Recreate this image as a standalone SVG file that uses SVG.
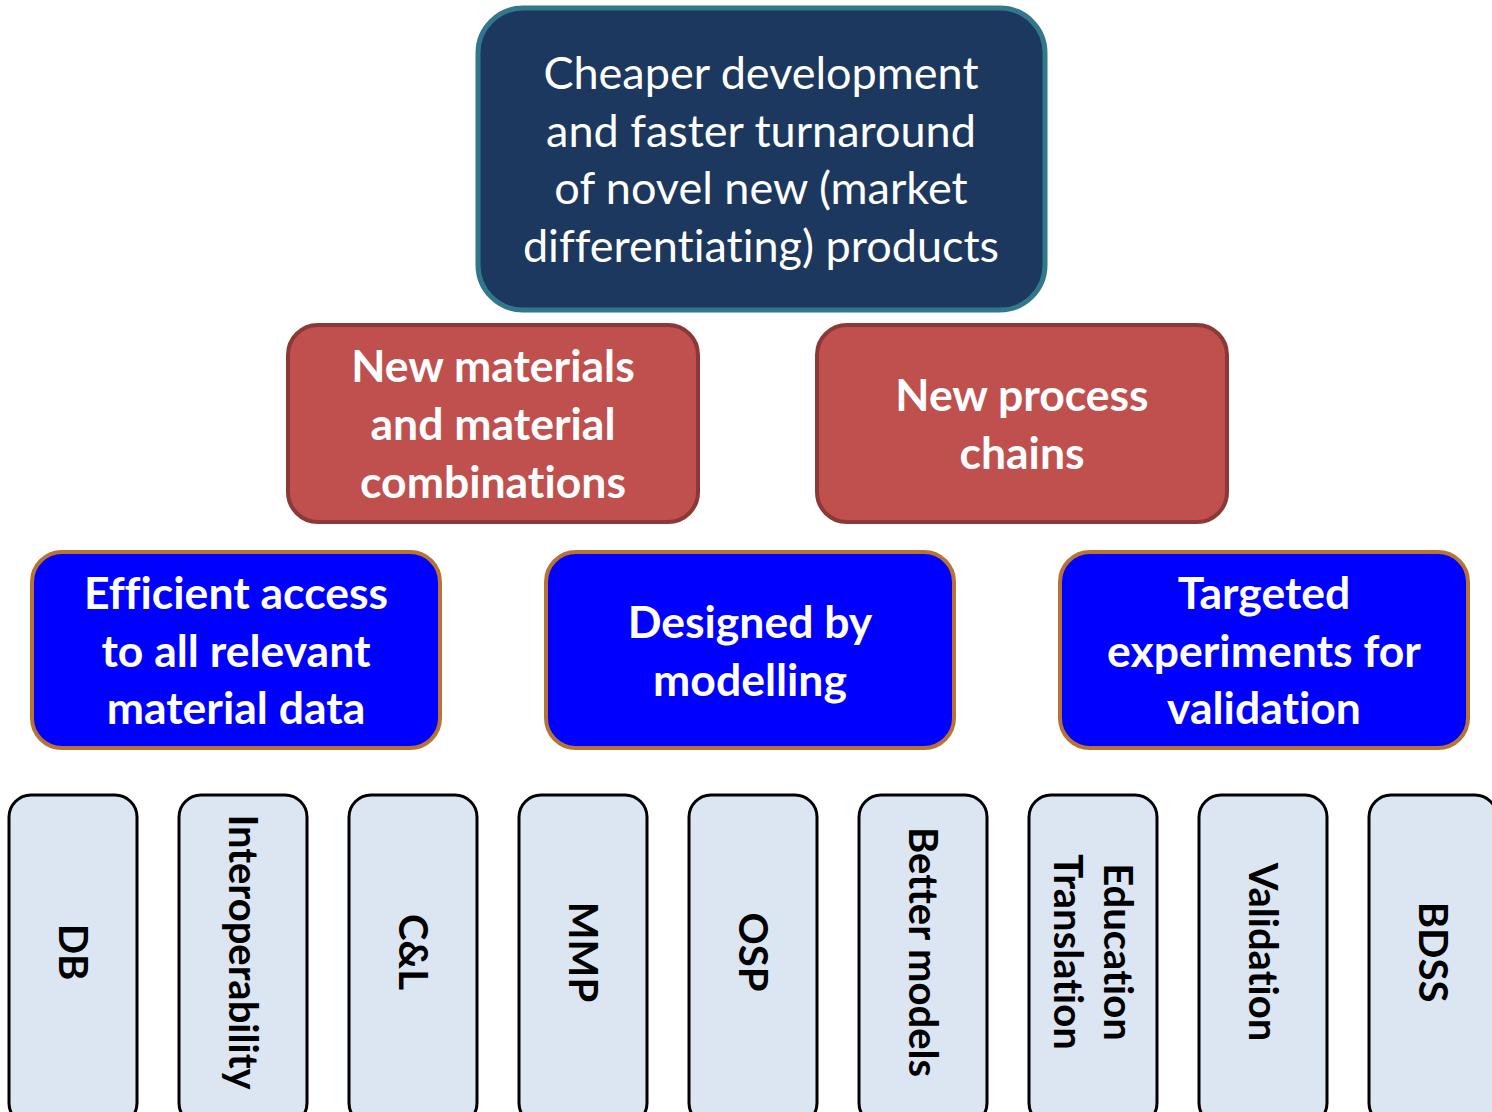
<svg xmlns="http://www.w3.org/2000/svg" width="1492" height="1112" viewBox="0 0 1492 1112">
<style>
.top{fill:#1c385e;stroke:#31788c;stroke-width:5}
.red{fill:#c0504d;stroke:#8c3836;stroke-width:4}
.blue{fill:#0000ff;stroke:#b87333;stroke-width:4}
.leaf{fill:#dce6f2;stroke:#000;stroke-width:3}
text{font-family:Lato,"Liberation Sans",sans-serif;text-anchor:middle;font-variant-ligatures:none}
.tt{fill:#fff;font-size:45px}
.bt{fill:#fff;font-size:44.5px;font-weight:bold}
.lt{fill:#000;font-size:40px;font-weight:bold}
</style>
<g id="goal">
<rect class="top" x="478" y="8" width="567" height="302" rx="45"/>
<text class="tt" x="761"><tspan x="761" y="89">Cheaper development</tspan><tspan x="761" y="147">and faster turnaround</tspan><tspan x="761" y="204">of novel new (market</tspan><tspan x="761" y="262">differentiating) products</tspan></text>
</g>
<g id="materials">
<rect class="red" x="288" y="325" width="410" height="197" rx="30"/>
<text class="bt"><tspan x="493" y="382">New materials</tspan><tspan x="493" y="440">and material</tspan><tspan x="493" y="498">combinations</tspan></text>
</g>
<g id="process">
<rect class="red" x="817" y="325" width="410" height="197" rx="30"/>
<text class="bt"><tspan x="1022" y="411">New process</tspan><tspan x="1022" y="469">chains</tspan></text>
</g>
<g id="access">
<rect class="blue" x="32" y="552" width="408" height="196" rx="30"/>
<text class="bt"><tspan x="236" y="609">Efficient access</tspan><tspan x="236" y="667">to all relevant</tspan><tspan x="236" y="724">material data</tspan></text>
</g>
<g id="modelling">
<rect class="blue" x="546" y="552" width="408" height="196" rx="30"/>
<text class="bt"><tspan x="750" y="638">Designed by</tspan><tspan x="750" y="696">modelling</tspan></text>
</g>
<g id="experiments">
<rect class="blue" x="1060" y="552" width="408" height="196" rx="30"/>
<text class="bt"><tspan x="1264" y="609">Targeted</tspan><tspan x="1264" y="667">experiments for</tspan><tspan x="1264" y="724">validation</tspan></text>
</g>
<g id="db">
<rect class="leaf" x="9" y="795" width="128" height="330" rx="22"/>
<text class="lt" transform="translate(73,952) rotate(90)" y="14">DB</text>
</g>
<g id="interop">
<rect class="leaf" x="179" y="795" width="128" height="330" rx="22"/>
<text class="lt" transform="translate(243,952) rotate(90)" y="14">Interoperability</text>
</g>
<g id="cl">
<rect class="leaf" x="349" y="795" width="128" height="330" rx="22"/>
<text class="lt" transform="translate(413,952) rotate(90)" y="14">C&amp;L</text>
</g>
<g id="mmp">
<rect class="leaf" x="519" y="795" width="128" height="330" rx="22"/>
<text class="lt" transform="translate(583,952) rotate(90)" y="14">MMP</text>
</g>
<g id="osp">
<rect class="leaf" x="689" y="795" width="128" height="330" rx="22"/>
<text class="lt" transform="translate(753,952) rotate(90)" y="14">OSP</text>
</g>
<g id="models">
<rect class="leaf" x="859" y="795" width="128" height="330" rx="22"/>
<text class="lt" transform="translate(923,952) rotate(90)" y="14">Better models</text>
</g>
<g id="edu">
<rect class="leaf" x="1029" y="795" width="128" height="330" rx="22"/>
<text class="lt" transform="translate(1093,952) rotate(90)"><tspan x="0" y="-11">Education</tspan><tspan x="0" y="39">Translation</tspan></text>
</g>
<g id="validation">
<rect class="leaf" x="1199" y="795" width="128" height="330" rx="22"/>
<text class="lt" transform="translate(1263,952) rotate(90)" y="14">Validation</text>
</g>
<g id="bdss">
<rect class="leaf" x="1369" y="795" width="128" height="330" rx="22"/>
<text class="lt" transform="translate(1433,952) rotate(90)" y="14">BDSS</text>
</g>
<g id="connectors"/>
</svg>
